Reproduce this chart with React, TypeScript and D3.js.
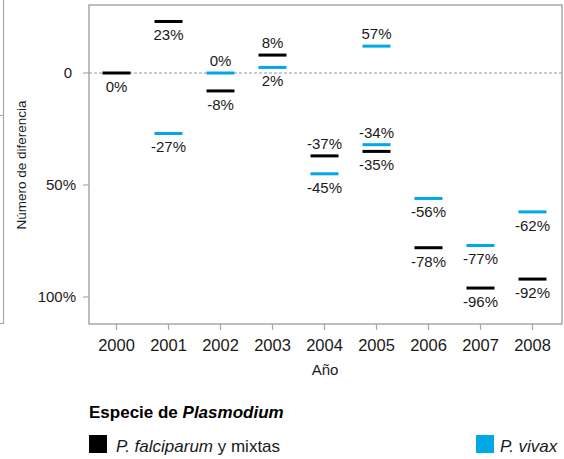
import React from "react";
import * as d3 from "d3";

// years on the x axis
const years = [2000, 2001, 2002, 2003, 2004, 2005, 2006, 2007, 2008];

// P. falciparum y mixtas, one mark per year
const falciparumValues = [0, 23, -8, 8, -37, -35, -78, -96, -92];
const falciparumLabels = ["0%", "23%", "-8%", "8%", "-37%", "-35%", "-78%", "-96%", "-92%"];
const falciparumSides = ["below", "below", "below", "above", "above", "below", "below", "below", "below"];

// P. vivax (2005 carries two marks in the source)
const vivaxYears = [2001, 2002, 2003, 2004, 2005, 2005, 2006, 2007, 2008];
const vivaxValues = [-27, 0, 2.5, -45, 12, -32, -56, -77, -62];
const vivaxLabels = ["-27%", "0%", "2%", "-45%", "57%", "-34%", "-56%", "-77%", "-62%"];
const vivaxSides = ["below", "above", "below", "below", "above", "above", "below", "below", "below"];

const yTicks = [0, -50, -100];
const yTickLabels = ["0", "50%", "100%"];

const W = 564;
const H = 459;
const FONT = "'Liberation Sans', Arial, Helvetica, sans-serif";
const BLACK = "#000000";
const BLUE = "#00a8e6";
const GRID = "#a8a8a8";
const TEXT = "#1a1a1a";

export default function App() {
  const left = 89;
  const right = 562;
  const top = 5;
  const bottom = 324;

  const x = d3.scaleBand<number>().domain(years).range([90.5, 558.5]);
  const y = d3.scaleLinear().domain([0, -100]).range([73, 297]);

  const barW = 28;
  const barH = 3;

  const marks = [
    ...years.map((yr, i) => ({
      year: yr,
      value: falciparumValues[i],
      label: falciparumLabels[i],
      side: falciparumSides[i],
      color: BLACK,
    })),
    ...vivaxYears.map((yr, i) => ({
      year: yr,
      value: vivaxValues[i],
      label: vivaxLabels[i],
      side: vivaxSides[i],
      color: BLUE,
    })),
  ];

  const cx = (yr: number) => (x(yr) as number) + x.bandwidth() / 2;

  return (
    <svg
      width={W}
      height={H}
      style={{ position: "absolute", left: 0, top: 0, background: "#fff" }}
      fontFamily={FONT}
    >
      {/* cut-off frame on the far left */}
      <path d={`M0,115.5 H3.5 M3.5,0 V323.5 H0`} fill="none" stroke={GRID} strokeWidth={1.2} />

      {/* plot frame */}
      <rect
        x={left}
        y={top}
        width={right - left}
        height={bottom - top}
        fill="none"
        stroke={GRID}
        strokeWidth={1.5}
      />

      {/* zero line */}
      <line
        x1={left}
        x2={right}
        y1={y(0)}
        y2={y(0)}
        stroke="#999"
        strokeWidth={1}
        strokeDasharray="3,2"
      />

      {/* y ticks */}
      {yTicks.map((t, i) => (
        <g key={t}>
          <line x1={left - 6} x2={left} y1={y(t)} y2={y(t)} stroke={GRID} strokeWidth={1.2} />
          <text
            x={t === 0 ? 72 : 76}
            y={y(t)}
            dy="0.35em"
            textAnchor="end"
            fontSize={15}
            fill={TEXT}
          >
            {yTickLabels[i]}
          </text>
        </g>
      ))}

      {/* x ticks */}
      {years.map((yr) => (
        <g key={yr}>
          <line x1={cx(yr)} x2={cx(yr)} y1={bottom} y2={bottom + 6} stroke={GRID} strokeWidth={1.2} />
          <text x={cx(yr)} y={bottom + 27} textAnchor="middle" fontSize={16.5} fill={TEXT}>
            {yr}
          </text>
        </g>
      ))}

      {/* axis titles */}
      <text x={325} y={375} textAnchor="middle" fontSize={15} fill={TEXT}>
        Año
      </text>
      <text
        transform={`translate(21, 165) rotate(-90)`}
        textAnchor="middle"
        dy="0.35em"
        fontSize={13.5}
        fill={TEXT}
      >
        Número de diferencia
      </text>

      {/* marks */}
      {marks.map((m, i) => (
        <g key={i}>
          <rect
            x={cx(m.year) - barW / 2}
            y={y(m.value) - barH / 2}
            width={barW}
            height={barH}
            fill={m.color}
          />
          <text
            x={cx(m.year)}
            y={m.side === "above" ? y(m.value) - 7 : y(m.value) + 19}
            textAnchor="middle"
            fontSize={15}
            fill={TEXT}
          >
            {m.label}
          </text>
        </g>
      ))}

      {/* legend */}
      <text x={89} y={418} fontSize={17} fontWeight="bold" fill={BLACK}>
        Especie de <tspan fontStyle="italic">Plasmodium</tspan>
      </text>
      <rect x={89} y={435} width={18} height={18} fill={BLACK} />
      <text x={116} y={452} fontSize={17} fill={TEXT}>
        <tspan fontStyle="italic">P. falciparum</tspan> y mixtas
      </text>
      <rect x={476} y={435} width={18} height={18} fill={BLUE} />
      <text x={500} y={452} fontSize={17} fill={TEXT}>
        <tspan fontStyle="italic">P. vivax</tspan>
      </text>
    </svg>
  );
}
